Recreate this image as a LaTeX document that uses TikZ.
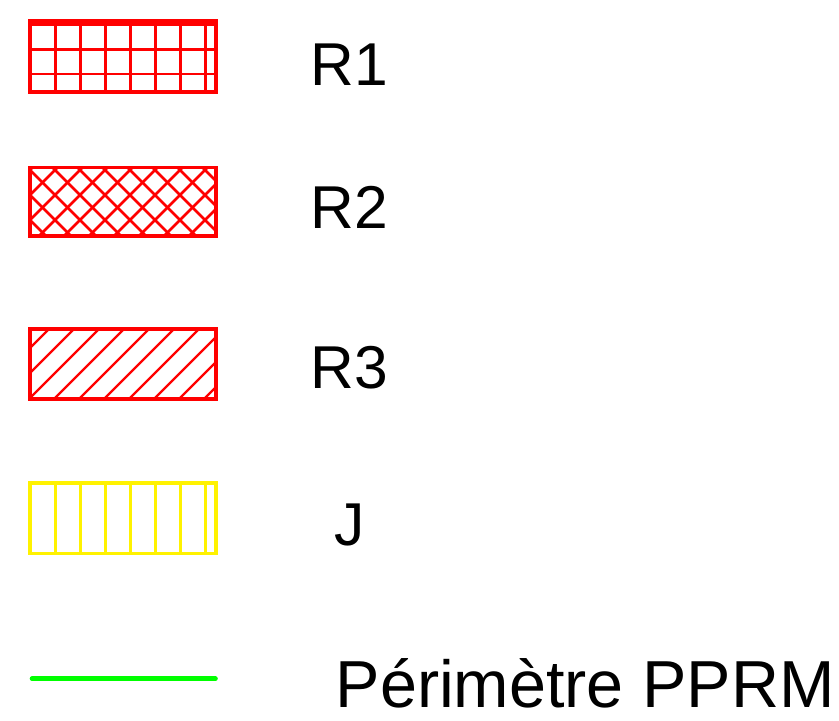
\documentclass[tikz,border=0pt]{standalone}
\usepackage{fontspec}
\setmainfont{Liberation Sans}

\begin{document}
\begin{tikzpicture}[
  x=1pt, y=-1pt,
  swatch/.style={rectangle, draw, line width=3.6pt, minimum width=186pt,
                 minimum height=70pt, inner sep=0pt, outer sep=0pt},
  redbox/.style={swatch, draw=red},
  yellowbox/.style={swatch, draw=yellow},
  hatch/.style={line width=2.7pt},
  legtext/.style={anchor=base west, inner sep=0pt,
                  font=\fontsize{60.5}{72}\selectfont},
  perim/.style={draw=green, line width=4.6pt, line cap=round}
]
\useasboundingbox (0,0) rectangle (839,721);

% swatches
\node[redbox, minimum height=71pt] (r1box) at (123,56.2) {};
\node[redbox, minimum height=68.4pt] (r2box) at (123,201.5) {};
\node[redbox] (r3box) at (123,364) {};
\node[yellowbox, minimum height=70.6pt] (jbox) at (123,518) {};

% R1 : grid
\begin{scope}
  \clip (r1box.south west) rectangle (r1box.north east);
  \foreach \x in {55.5,80.5,...,206}
    \draw[hatch, red] (\x,0) -- (\x,120);
  \foreach \y in {24.5,49.3,74}
    \draw[hatch, red] (0,\y) -- (250,\y);
\end{scope}

% R2 : cross hatch
\begin{scope}
  \clip (r2box.south west) rectangle (r2box.north east);
  \foreach \k in {-4,...,7}
    \draw[hatch, red] ({-115+25*\k+150},150) -- ({-115+25*\k+250},250);
  \foreach \k in {-2,...,10}
    \draw[hatch, red] ({225+25*\k-150},150) -- ({225+25*\k-250},250);
\end{scope}

% R3 : single hatch
\begin{scope}
  \clip (r3box.south west) rectangle (r3box.north east);
  \foreach \k in {-1,...,10}
    \draw[line width=2.3pt, red] ({378+25*\k-310},310) -- ({378+25*\k-410},410);
\end{scope}

% J : vertical lines
\begin{scope}
  \clip (jbox.south west) rectangle (jbox.north east);
  \foreach \x in {55.5,80.5,...,206}
    \draw[hatch, yellow] (\x,470) -- (\x,570);
\end{scope}

% perimeter line
\coordinate (pstart) at (32,678.7);
\coordinate (pend) at (215.5,678.7);
\draw[perim] (pstart) -- (pend);

% labels
\node[legtext] (r1lab) at (310.5,85.5) {R1};
\node[legtext] (r2lab) at (310.5,228.5) {R2};
\node[legtext] (r3lab) at (310.5,388.5) {R3};
\node[legtext] (jlab) at (334.5,545.5) {J};
\node[legtext, font=\fontsize{66.5}{78}\selectfont] (plab) at (335.5,707) {Périmètre PPRM};
\end{tikzpicture}
\end{document}
